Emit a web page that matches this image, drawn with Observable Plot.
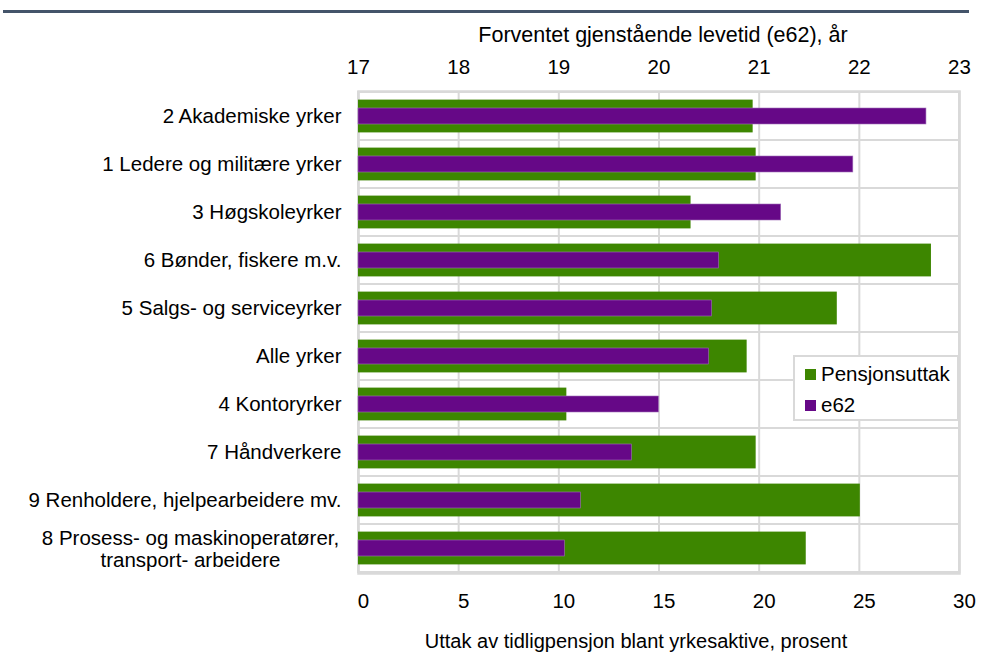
<!DOCTYPE html>
<html><head><meta charset="utf-8">
<script src="https://cdn.jsdelivr.net/npm/d3@7"></script>
<script src="https://cdn.jsdelivr.net/npm/@observablehq/plot@0.6"></script>
<style>
body{margin:0;background:#fff;font-family:"Liberation Sans",Arial,sans-serif;}
#wrap{position:relative;width:982px;height:652px;overflow:hidden;}
#rule{position:absolute;left:3px;top:10px;width:966px;height:3px;background:#44546a;}
#legend{position:absolute;left:793px;top:355px;width:162px;height:62px;border:2px solid #d9d9d9;background:#fff;font-size:20.5px;color:#000;}
#legend .row{position:absolute;left:10px;display:flex;align-items:center;white-space:nowrap;}
#legend .sw{width:11px;height:11px;margin-right:5px;}
</style></head>
<body>
<div id="wrap">
<div id="rule"></div>
<div id="chart"></div>
<div id="legend">
  <div class="row" style="top:5px"><div class="sw" style="background:#3d8600"></div>Pensjonsuttak</div>
  <div class="row" style="top:36px"><div class="sw" style="background:#660887"></div>e62</div>
</div>
</div>
<script>
const categories = [
  "2 Akademiske yrker",
  "1 Ledere og militære yrker",
  "3 Høgskoleyrker",
  "6 Bønder, fiskere m.v.",
  "5 Salgs- og serviceyrker",
  "Alle yrker",
  "4 Kontoryrker",
  "7 Håndverkere",
  "9 Renholdere, hjelpearbeidere mv.",
  "8 Prosess- og maskinoperatører,\ntransport- arbeidere"
];
const pensjonsuttak = [19.7, 19.85, 16.6, 28.6, 23.9, 19.4, 10.4, 19.85, 25.05, 22.35];
const e62 = [22.67, 21.94, 21.22, 20.60, 20.53, 20.50, 20.00, 19.73, 19.22, 19.06];
const bottomTicks = [0, 5, 10, 15, 20, 25, 30];
const topTicks = [17, 18, 19, 20, 21, 22, 23];
const topTitle = "Forventet gjenstående levetid (e62), år";
const bottomTitle = "Uttak av tidligpensjon blant yrkesaktive, prosent";

const GREEN = "#3d8600", PURPLE = "#660887", GRID = "#d9d9d9";
const FS = 20.5;
// e62 (top axis, 17–23) expressed on the bottom scale (0–30)
const e62Min = topTicks[0], e62Max = topTicks[topTicks.length - 1];
const toBottom = v => (v - e62Min) * (bottomTicks[bottomTicks.length - 1] - bottomTicks[0]) / (e62Max - e62Min);

const rows = categories.map((c, i) => ({cat: c, p: pensjonsuttak[i], e: toBottom(e62[i])}));
const single = rows.filter(r => !r.cat.includes("\n"));
const multi = rows.filter(r => r.cat.includes("\n"));

const chart = Plot.plot({
  width: 982,
  height: 652,
  marginLeft: 358,
  marginRight: 23,
  marginTop: 91,
  marginBottom: 79,
  style: {fontFamily: '"Liberation Sans", Arial, sans-serif', fontSize: FS + "px", color: "#000", background: "#fff"},
  x: {domain: [0, 30], axis: null},
  y: {domain: categories, padding: 0, axis: null},
  marks: [
    Plot.ruleX(bottomTicks, {stroke: GRID, strokeWidth: 2}),
    Plot.barX(categories, {x1: 0, x2: 30, y: d => d, fill: "none", stroke: GRID, strokeWidth: 2}),
    Plot.frame({stroke: GRID, strokeWidth: 2.5}),
    Plot.barX(rows, {x: "p", y: "cat", fill: GREEN, insetTop: 7.6, insetBottom: 7.6}),
    Plot.barX(rows, {x: "e", y: "cat", fill: PURPLE, stroke: "#a070b8", strokeWidth: 0.6, insetTop: 16, insetBottom: 16}),
    Plot.axisX(bottomTicks, {anchor: "bottom", tickSize: 0, tickPadding: 20, dx: 5, fontSize: FS, label: null}),
    Plot.axisX(bottomTicks, {anchor: "top", tickSize: 0, tickPadding: 18, fontSize: FS, label: null, tickFormat: (d, i) => String(topTicks[i])}),
    Plot.text([topTitle], {frameAnchor: "top", dy: -56, dx: 4, text: d => d, fontSize: 21.5, lineAnchor: "middle"}),
    Plot.text([bottomTitle], {frameAnchor: "bottom", dy: 68, dx: -23, text: d => d, fontSize: 20, lineAnchor: "middle"}),
    Plot.text(single, {x: 0, y: "cat", text: "cat", textAnchor: "end", dx: -17, fontSize: FS, lineAnchor: "middle"}),
    Plot.text(multi, {x: 0, y: "cat", text: "cat", textAnchor: "middle", dx: -168, fontSize: FS, lineAnchor: "middle", lineHeight: 1.07})
  ]
});
document.getElementById("chart").appendChild(chart);
</script>
</body></html>
